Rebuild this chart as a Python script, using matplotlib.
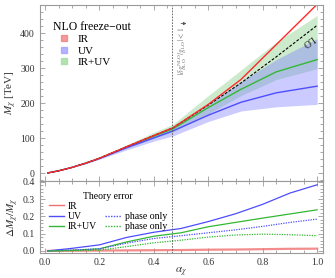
import numpy as np
import matplotlib.pyplot as plt
from matplotlib.lines import Line2D
from matplotlib.ticker import MultipleLocator

plt.rcParams['font.family'] = ['Liberation Serif', 'DejaVu Serif']
plt.rcParams['mathtext.fontset'] = 'stix'

# top panel: freeze-out mass vs coupling
alpha = [0.01, 0.05, 0.1, 0.15, 0.2, 0.3, 0.4, 0.47, 0.6, 0.72, 0.85, 1.0]
m_lo = [1, 7, 17, 29, 43, 76, 108, 130, 195, 258, 333, 423]
m_ir = [1, 7, 17, 29, 43, 76, 108, 130, 197, 268, 368, 483]
m_uv = [1, 7, 17, 29, 42, 73, 101, 121, 166, 203, 230, 249]
m_uv_lo = [1, 7, 16, 27, 40, 67, 92, 107, 148, 178, 190, 197]
m_uv_hi = [1, 7, 17, 29, 44, 78, 110, 133, 198, 262, 325, 385]
m_both = [1, 7, 17, 29, 43, 75, 106, 127, 188, 240, 290, 325]
m_both_lo = [1, 7, 17, 28, 42, 72, 100, 118, 170, 222, 268, 299]
m_both_hi = [1, 7, 17, 30, 45, 81, 117, 140, 222, 295, 375, 451]

# bottom panel: relative theory error
alpha_err = [0.01, 0.1, 0.2, 0.3, 0.4, 0.5, 0.6, 0.7, 0.8, 0.9, 1.0]
err_ir = [0.0, 0.001, 0.002, 0.003, 0.004, 0.005, 0.007, 0.008, 0.010, 0.012, 0.013]
err_uv = [0.0, 0.015, 0.035, 0.078, 0.108, 0.130, 0.170, 0.215, 0.270, 0.335, 0.383]
err_both = [0.0, 0.003, 0.012, 0.052, 0.085, 0.105, 0.140, 0.165, 0.190, 0.214, 0.238]
err_uv_phase = [0.0, 0.005, 0.012, 0.045, 0.072, 0.088, 0.105, 0.122, 0.142, 0.165, 0.184]
err_both_phase = [0.0, 0.001, 0.004, 0.025, 0.047, 0.062, 0.080, 0.092, 0.097, 0.094, 0.088]

alpha_cut = 0.467

red = '#ff2a2a'
blue = '#4d4dff'
green = '#33b833'
frame = '#9a9a9a'
txt = '#333333'

fig = plt.figure(figsize=(3.35, 2.78), dpi=100)
ax1 = fig.add_axes([0.118, 0.349, 0.845, 0.633])
ax2 = fig.add_axes([0.118, 0.09, 0.845, 0.259])

# bands and lines
ax1.fill_between(alpha, m_both_lo, m_both_hi, color='#8fd18f', alpha=0.45, lw=0)
ax1.plot(alpha, m_both, color=green, lw=1.0)
ax1.fill_between(alpha, m_uv_lo, m_uv_hi, color='#7f7fff', alpha=0.4, lw=0)
ax1.plot(alpha, m_uv, color=blue, lw=1.0)
ax1.plot(alpha, m_lo, color='black', lw=0.8, ls=(0, (2.5, 1.5)))
ax1.plot(alpha, m_ir, color=red, lw=1.0)
ax1.axvline(alpha_cut, color='#555555', lw=0.6, ls=(0, (2, 1.5)))
ax1.text(0.965, 378, 'LO', rotation=216, fontsize=7, ha='center', va='center', color='#222222')
ax1.text(0.505, 350, r'$|\delta g^{\rm NLO}_{\rm LO}/g_{\rm LO}|<1$', rotation=90,
         fontsize=5.5, color='#777777', ha='center', va='center')
ax1.annotate('', xy=(0.53, 428), xytext=(0.49, 428),
             arrowprops=dict(arrowstyle='-|>', color='#555555', lw=0.6, mutation_scale=4))

ax1.set_xlim(-0.02, 1.02)
ax1.set_ylim(-22, 481)
ax1.set_yticks([0, 100, 200, 300, 400])
ax1.yaxis.set_minor_locator(MultipleLocator(20))
ax1.xaxis.set_major_locator(MultipleLocator(0.2))
ax1.xaxis.set_minor_locator(MultipleLocator(0.05))
ax1.tick_params(labelbottom=False)
ax1.set_ylabel(r'$M_\chi$ [TeV]', fontsize=8, color=txt, labelpad=1)

handles1 = [Line2D([], [], ls='none', marker='s', ms=4, mfc='#f08080', mec='#f08080', alpha=0.8),
            Line2D([], [], ls='none', marker='s', ms=4, mfc='#a0a0ff', mec='#a0a0ff', alpha=0.8),
            Line2D([], [], ls='none', marker='s', ms=4, mfc='#a0dca0', mec='#a0dca0', alpha=0.8)]
leg1 = ax1.legend(handles1, ['IR', 'UV', 'IR+UV'], title='NLO freeze\u2212out', loc='upper left',
                  bbox_to_anchor=(0.02, 0.955), frameon=False, fontsize=8, title_fontsize=8.5,
                  handlelength=2.0, handletextpad=0.2, labelspacing=0.15, borderpad=0.2,
                  alignment='left')

# bottom panel
ax2.plot(alpha_err, err_ir, color='#f07070', lw=1.6, alpha=0.8)
ax2.plot(alpha_err, err_uv, color=blue, lw=0.9)
ax2.plot(alpha_err, err_both, color=green, lw=0.9)
ax2.plot(alpha_err, err_uv_phase, color=blue, lw=0.9, ls=(0, (1, 1)))
ax2.plot(alpha_err, err_both_phase, color=green, lw=0.9, ls=(0, (1, 1)))
ax2.axvline(alpha_cut, color='#555555', lw=0.6, ls=(0, (2, 1.5)))

ax2.set_xlim(-0.02, 1.02)
ax2.set_ylim(-0.012, 0.405)
ax2.yaxis.set_major_locator(MultipleLocator(0.1))
ax2.yaxis.set_minor_locator(MultipleLocator(0.02))
ax2.xaxis.set_major_locator(MultipleLocator(0.2))
ax2.xaxis.set_minor_locator(MultipleLocator(0.05))
ax2.set_xlabel(r'$\alpha_\chi$', fontsize=8, color=txt, labelpad=-1)
ax2.set_ylabel(r'$\Delta M_\chi / M_\chi$', fontsize=8, color=txt, labelpad=1)

blank = Line2D([], [], ls='none')
handles2 = [Line2D([], [], color='#f07070', lw=1.0),
            Line2D([], [], color=blue, lw=1.0),
            Line2D([], [], color=green, lw=1.0),
            blank,
            Line2D([], [], color=blue, lw=1.0, ls=(0, (1, 1))),
            Line2D([], [], color=green, lw=1.0, ls=(0, (1, 1)))]
labels2 = ['IR', 'UV', 'IR+UV', '', 'phase only', 'phase only']
ax2.legend(handles2, labels2, title='Theory error', ncol=2, loc='upper left',
           bbox_to_anchor=(0.005, 0.96), frameon=False, fontsize=7, title_fontsize=7,
           handlelength=1.6, handletextpad=0.4, labelspacing=0.12, columnspacing=0.8,
           borderpad=0.3)

for ax in (ax1, ax2):
    for s in ax.spines.values():
        s.set_color(frame)
        s.set_linewidth(0.8)
    ax.tick_params(which='both', direction='in', top=True, right=True, colors=frame,
                   labelcolor=txt, labelsize=7, width=0.6)
    ax.tick_params(which='major', length=3.5)
    ax.tick_params(which='minor', length=2)

fig.savefig('out.png', dpi=100)
